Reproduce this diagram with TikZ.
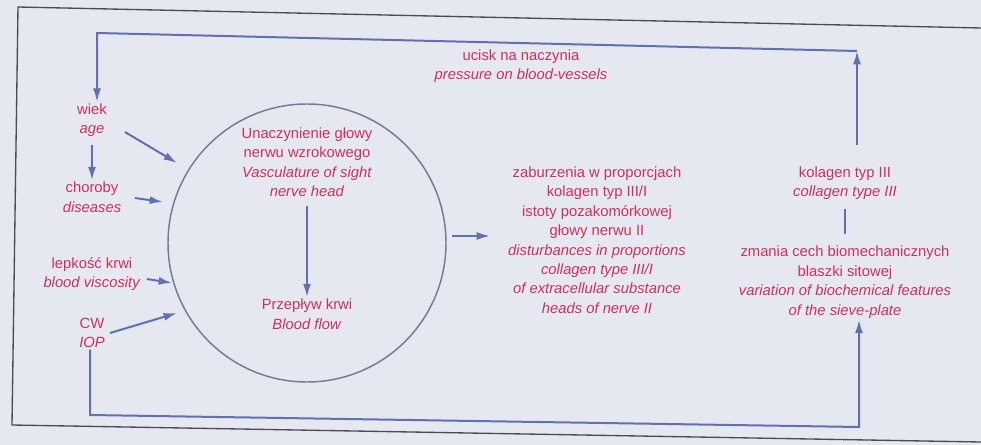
\documentclass[tikz,border=0pt]{standalone}
\usepackage{fontspec}
\setmainfont{Liberation Sans}
\usetikzlibrary{arrows.meta}
\definecolor{bg}{RGB}{229,231,241}
\definecolor{txtc}{RGB}{206,48,88}
\definecolor{linec}{RGB}{98,112,178}
\definecolor{circc}{RGB}{118,122,150}
\definecolor{framec}{RGB}{75,75,85}
\begin{document}
\begin{tikzpicture}[x=0.75pt,y=-0.75pt,
  txt/.style={text=txtc, font=\fontsize{11.1}{14.6}\selectfont, align=center, inner sep=1pt},
  conn/.style={draw=linec, line width=1.5pt},
  arr/.style={conn, -{Latex[length=10pt,width=6pt]}},
  framestyle/.style={draw=framec, line width=1pt}]
\useasboundingbox (0,0) rectangle (981,445);
\fill[bg] (0,0) rectangle (981,445);
\draw[framestyle] (981,28) -- (18,7) -- (12,425) -- (981,442);

% left column
\node[txt] (wiek) at (92,120) {wiek\\\textit{age}};
\node[txt] (chor) at (92,197) {choroby\\\textit{diseases}};
\node[txt] (lep) at (92,274) {lepkość krwi\\\textit{blood viscosity}};
\node[txt] (cw) at (92,333) {CW\\\textit{IOP}};
\draw[arr, shorten <=5pt] (wiek.south) -- (chor.north);

% circle
\node[circle, draw=circc, line width=1.1pt, minimum size=208.5pt, inner sep=0pt] (circ) at (307,243) {};
\node[txt] (vasc) at (307,162) {Unaczynienie głowy\\nerwu wzrokowego\\\textit{Vasculature of sight}\\\textit{nerve head}};
\node[txt] (flow) at (307,314) {Przepływ krwi\\\textit{Blood flow}};
\draw[arr, shorten <=6pt] (vasc.south) -- (flow.north);

% inputs into circle
\coordinate (a1s) at (125,132); \coordinate (a1e) at (177,163);
\coordinate (a2s) at (135,198); \coordinate (a2e) at (163,202);
\coordinate (a3s) at (147,279); \coordinate (a3e) at (172,283);
\coordinate (a4s) at (110,333); \coordinate (a4e) at (177,313);
\draw[arr] (a1s) -- (a1e);
\draw[arr] (a2s) -- (a2e);
\draw[arr] (a3s) -- (a3e);
\draw[arr] (a4s) -- (a4e);

% middle
\node[txt] (dist) at (597,240) {zaburzenia w proporcjach\\kolagen typ III/I\\istoty pozakomórkowej\\głowy nerwu II\\\textit{disturbances in proportions}\\\textit{collagen type III/I}\\\textit{of extracellular substance}\\\textit{heads of nerve II}};
\coordinate (m1s) at (452,236); \coordinate (m1e) at (490,236);
\draw[arr] (m1s) -- (m1e);

% right
\node[txt] (kol) at (845,183) {kolagen typ III\\\textit{collagen type III}};
\node[txt] (zm) at (845,282) {zmania cech biomechanicznych\\blaszki sitowej\\\textit{variation of biochemical features}\\\textit{of the sieve-plate}};
\draw[conn, shorten <=6pt, shorten >=8pt] (kol.south) -- (zm.north);

% top text
\node[txt] (ucisk) at (521,66) {ucisk na naczynia\\\textit{pressure on blood-vessels}};

% feedback loops
\coordinate (TR) at (857,51); \coordinate (TL) at (97,33);
\coordinate (kup) at (857,145);
\draw[arr] (kup) -- (TR);
\draw[arr] (TR) -- (TL) -- (TL |- wiek.north);
\coordinate (BL) at (90,415); \coordinate (BR) at (859,427);
\draw[arr] (cw.south -| BL) -- (BL) -- (BR) -- (BR |- zm.south);
\end{tikzpicture}
\end{document}
